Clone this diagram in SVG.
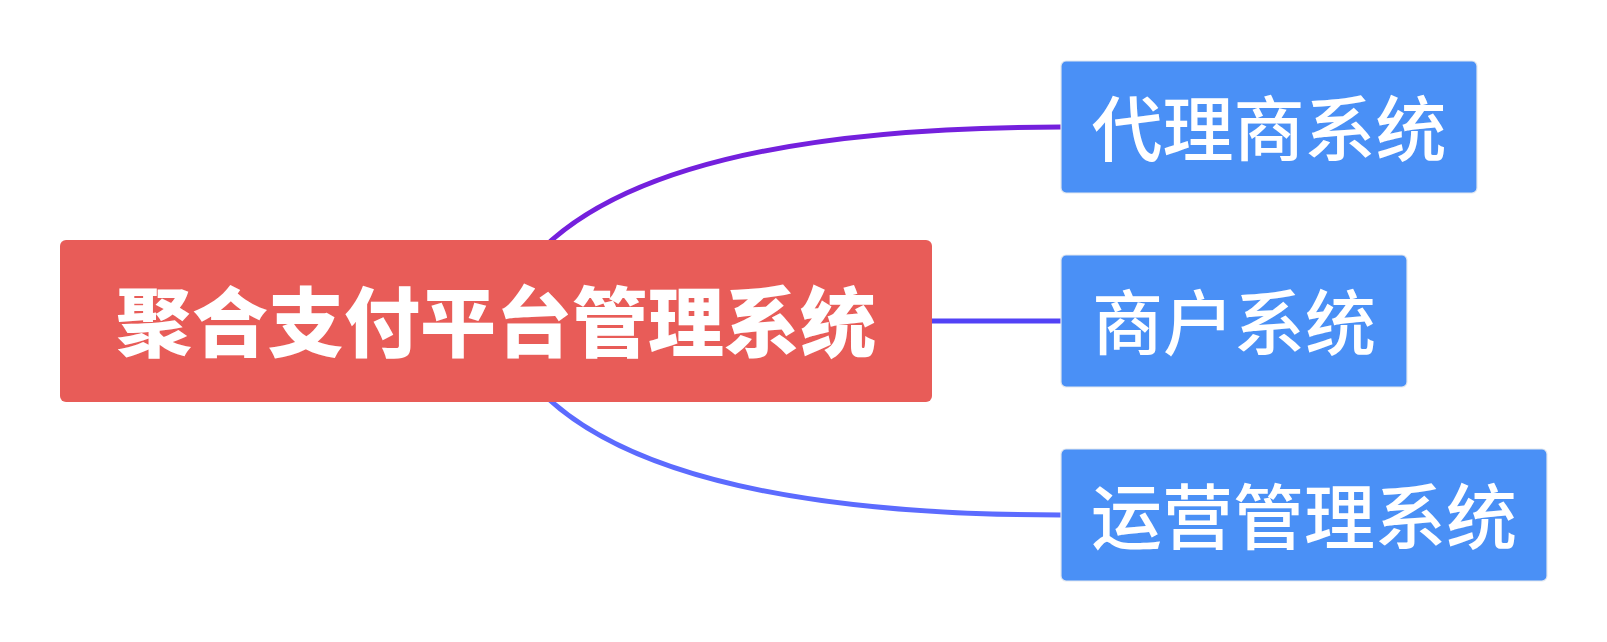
<svg xmlns="http://www.w3.org/2000/svg" width="1607" height="642" viewBox="0 0 1607 642">
<style>
  .conn { fill: none; stroke-width: 5; stroke-linecap: butt; }
  .child rect { fill: #4A90F6; stroke: #E2E8F0; stroke-width: 1.2; }
  .child text { fill: #FFFFFF; font-family: "Noto Sans CJK SC", "Noto Sans", sans-serif; font-size: 71px; font-weight: 500; text-anchor: middle; dominant-baseline: central; }
  .root rect { fill: #E85C58; }
  .root text { fill: #FFFFFF; font-family: "Noto Sans CJK SC", "Noto Sans", sans-serif; font-size: 76px; font-weight: 900; text-anchor: middle; dominant-baseline: central; }
</style>
<rect width="1607" height="642" fill="#FFFFFF"/>
<g id="connectors">
  <path class="conn" d="M 496 321 Q 563 127 1061 127" stroke="#7420DD"/>
  <path class="conn" d="M 496 321 L 1061 321" stroke="#5242F6"/>
  <path class="conn" d="M 496 321 Q 563 515 1061 515" stroke="#5C6BFE"/>
</g>
<g id="root" class="root">
  <rect x="60" y="240" width="872" height="162" rx="6" ry="6"/>
  <text x="496" y="318">聚合支付平台管理系统</text>
</g>
<g id="agent" class="child">
  <rect x="1061" y="61" width="416" height="132" rx="5" ry="5"/>
  <text x="1269" y="124">代理商系统</text>
</g>
<g id="merchant" class="child">
  <rect x="1061" y="255" width="346" height="132" rx="5" ry="5"/>
  <text x="1234" y="318">商户系统</text>
</g>
<g id="ops" class="child">
  <rect x="1061" y="449" width="486" height="132" rx="5" ry="5"/>
  <text x="1304" y="512">运营管理系统</text>
</g>
</svg>
